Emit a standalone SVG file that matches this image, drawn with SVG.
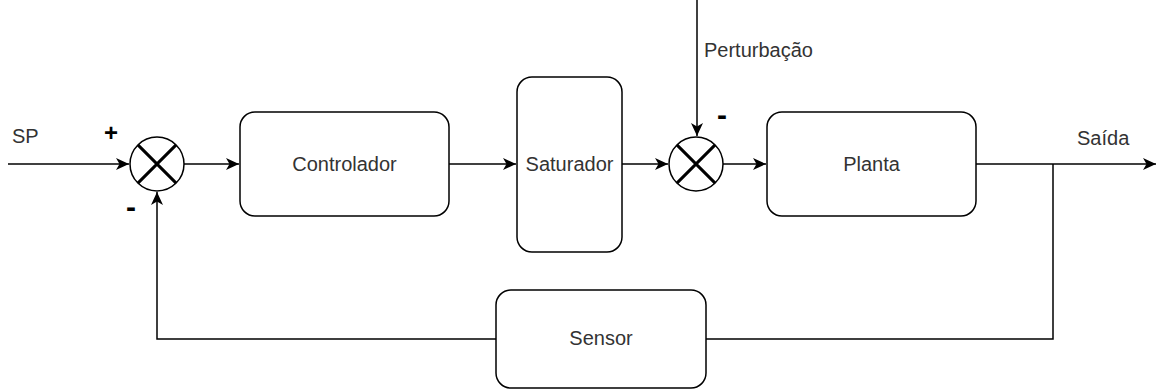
<svg xmlns="http://www.w3.org/2000/svg" width="1157" height="389" viewBox="0 0 1157 389">
<style>
.box{fill:#fff;stroke:#000;stroke-width:1.5}
.sum{fill:#fff;stroke:#000;stroke-width:1.5}
.x{stroke:#000;stroke-width:3;fill:none}
.ln{fill:none;stroke:#000;stroke-width:1.5}
.t{font-family:"Liberation Sans",Arial,sans-serif;font-size:20px;fill:#333}
.c{text-anchor:middle;dominant-baseline:central}
.s{font-family:"Liberation Sans",Arial,sans-serif;font-size:24px;font-weight:bold;fill:#000;text-anchor:middle;dominant-baseline:central}
.m{font-size:30px}
</style>
<defs>
<marker id="arr" markerWidth="14" markerHeight="12" refX="13" refY="6" orient="auto" markerUnits="userSpaceOnUse">
<path d="M0,0 L13,6 L0,12 L3.5,6 Z" fill="#000"/>
</marker>
</defs>
<g id="connectors">
<path class="ln" d="M8,164 H129" marker-end="url(#arr)"/>
<path class="ln" d="M184,164 H239" marker-end="url(#arr)"/>
<path class="ln" d="M449,164 H516" marker-end="url(#arr)"/>
<path class="ln" d="M622,164 H668" marker-end="url(#arr)"/>
<path class="ln" d="M723,164 H766" marker-end="url(#arr)"/>
<path class="ln" d="M976,164 H1156" marker-end="url(#arr)"/>
<path class="ln" d="M697,0 V136" marker-end="url(#arr)"/>
<path class="ln" d="M1053,164 V339 H706"/>
<path class="ln" d="M496,339 H157 V192" marker-end="url(#arr)"/>
</g>
<g id="sum1">
<circle class="sum" cx="157" cy="164" r="27"/>
<path class="x" d="M137.9,144.9 L176.1,183.1 M176.1,144.9 L137.9,183.1"/>
</g>
<g id="sum2">
<circle class="sum" cx="696" cy="164" r="27"/>
<path class="x" d="M676.9,144.9 L715.1,183.1 M715.1,144.9 L676.9,183.1"/>
</g>
<g id="controlador">
<rect class="box" x="240" y="112" width="209" height="104" rx="15" ry="15"/>
<text class="t c" x="344.5" y="164">Controlador</text>
</g>
<g id="saturador">
<rect class="box" x="517" y="77" width="105" height="175" rx="15" ry="15"/>
<text class="t c" x="569.5" y="164">Saturador</text>
</g>
<g id="planta">
<rect class="box" x="767" y="112" width="209" height="104" rx="15" ry="15"/>
<text class="t c" x="871.5" y="164">Planta</text>
</g>
<g id="sensor">
<rect class="box" x="496" y="290" width="210" height="98" rx="15" ry="15"/>
<text class="t c" x="601" y="338">Sensor</text>
</g>
<g id="labels">
<text class="t" x="12" y="143">SP</text>
<text class="t" x="704" y="57">Perturbação</text>
<text class="t" x="1077" y="145">Saída</text>
<text class="s" x="111" y="132">+</text>
<text class="s m" x="131" y="206">-</text>
<text class="s m" x="722" y="114">-</text>
</g>
</svg>
